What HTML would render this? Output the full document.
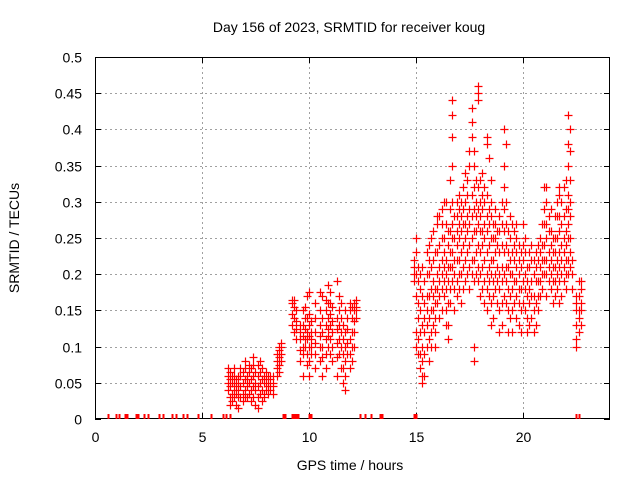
<!DOCTYPE html>
<html><head><meta charset="utf-8"><style>
html,body{margin:0;padding:0;background:#fff}
svg{display:block;font-family:"Liberation Sans",sans-serif}
</style></head><body>
<svg id="chart" width="640" height="480" viewBox="0 0 640 480" xmlns="http://www.w3.org/2000/svg">
<rect width="640" height="480" fill="#fff"/>
<text x="349" y="32" font-size="14" text-anchor="middle">Day 156 of 2023, SRMTID for receiver koug</text>
<text transform="translate(19,238) rotate(-90)" font-size="14" text-anchor="middle">SRMTID / TECUs</text>
<text x="350" y="470" font-size="14" text-anchor="middle">GPS time / hours</text>
<g id="grid"></g>
<g id="ticks"></g>
<rect x="95.5" y="57.5" width="514" height="361" fill="none" stroke="#000" stroke-width="1"/>
<path id="zeros" d="" stroke="#ff0000" stroke-width="2" fill="none"/>
<path id="marks" d="" stroke="#ff0000" stroke-width="1.2" fill="none"/>
</svg>
<script>
const xTicks = [0, 5, 10, 15, 20];
const yTicks = [0, 0.05, 0.1, 0.15, 0.2, 0.25, 0.3, 0.35, 0.4, 0.45, 0.5];
const yTickLabels = ["0","0.05","0.1","0.15","0.2","0.25","0.3","0.35","0.4","0.45","0.5"];
const zeroTimes = [0.6,1.0,1.1,1.4,1.5,1.9,2.0,2.3,2.5,3.0,3.2,3.6,3.8,4.1,4.3,4.8,5.4,6.0,6.1,6.3,8.8,8.9,9.2,9.3,9.4,9.5,10.0,10.1,12.4,12.6,12.9,13.3,13.4,14.9,15.0,22.5,22.6];
const sampleTimes = [6.2,6.3,6.4,6.5,6.6,6.7,6.8,6.9,7.0,7.1,7.2,7.3,7.4,7.5,7.6,7.7,7.8,7.9,8.0,8.1,8.2,8.3,8.5,8.6,8.7,
9.2,9.3,9.4,9.6,9.7,9.8,9.9,10.0,10.1,10.3,10.5,10.6,10.8,10.9,11.0,11.1,11.3,11.4,11.5,11.6,11.7,11.8,11.9,12.0,12.1,12.2,
14.9,15.0,15.1,15.2,15.3,15.4,15.5,15.6,15.7,15.8,15.9,16.0,16.1,16.2,16.3,16.4,16.5,16.6,16.7,16.8,16.9,17.0,17.1,17.2,17.3,17.4,17.5,17.6,17.7,17.8,17.9,18.0,18.1,18.2,18.3,18.4,18.5,18.6,18.7,18.8,18.9,19.0,19.1,19.2,19.3,19.4,19.5,19.6,19.7,19.8,19.9,20.0,20.1,20.2,20.3,20.4,20.5,20.6,20.7,20.8,20.9,21.0,21.1,21.2,21.3,21.4,21.5,21.6,21.7,21.8,21.9,22.0,22.1,22.2,22.3,22.5,22.6,22.7];
const sampleValues = [
[.04,.05,.06,.07],[.03,.045,.055,.065,.02],[.035,.05,.06,.025],[.03,.04,.05,.06,.07],[.02,.035,.045,.055],
[.04,.05,.06,.015,.03],[.03,.045,.06,.07],[.035,.05,.065,.025],[.04,.055,.07,.03,.08],[.03,.045,.06,.05],
[.035,.05,.065,.075],[.025,.04,.055,.07],[.03,.045,.06,.075,.085],[.04,.05,.065,.02],[.03,.045,.06,.075,.015],
[.035,.05,.065,.08],[.025,.04,.055,.07],[.035,.05,.06,.03],[.04,.05,.055,.065],[.035,.045,.055,.06],
[.04,.05,.055,.06],[.035,.045,.05,.06],[.06,.07,.08,.09],[.075,.085,.095,.1,.065],[.08,.09,.1,.105],
[.13,.145,.16,.165],[.12,.14,.155,.165],[.11,.125,.135,.15],[.08,.095,.11,.12,.13],[.06,.09,.1,.115,.13,.15],
[.1,.11,.125,.14,.155],[.075,.09,.11,.12,.14,.17],[.06,.08,.1,.115,.13,.145,.175],[.09,.1,.11,.12,.135],
[.07,.09,.105,.12,.14,.16],[.08,.1,.115,.13,.15,.175],[.06,.085,.1,.12,.14,.17],[.07,.09,.11,.13,.15,.165],
[.1,.115,.125,.14,.16,.185],[.09,.11,.13,.145,.16,.175],[.08,.1,.12,.135,.155],[.06,.085,.105,.125,.14,.19],
[.09,.11,.13,.15,.17],[.07,.1,.12,.14,.16],[.05,.07,.09,.11,.13],[.04,.06,.08,.1,.12,.15],[.09,.105,.125,.14],
[.07,.09,.11,.15,.16],[.08,.1,.12,.14,.155],[.1,.12,.135,.15,.16],[.14,.15,.155,.165],
[.19,.2,.21,.22],[.17,.2,.23,.25,.1,.12],[.09,.11,.14,.16,.19,.21],[.07,.09,.12,.15,.18,.2],
[.05,.06,.08,.1,.13,.17,.21],[.06,.09,.12,.14,.16,.19],[.1,.13,.15,.17,.2,.23],[.08,.11,.14,.17,.2,.22,.24],
[.1,.12,.15,.18,.21,.25],[.13,.15,.17,.19,.22,.26],[.1,.12,.14,.16,.18,.23],[.16,.18,.2,.23,.27,.28],
[.14,.17,.19,.21,.24,.28],[.15,.18,.2,.22,.25,.27,.29],[.17,.19,.21,.23,.25,.3],[.13,.15,.18,.2,.22,.27,.3],
[.11,.13,.16,.19,.21,.24,.26],[.16,.18,.21,.23,.26,.29,.33],[.19,.21,.23,.25,.27,.3,.35,.39,.42,.44],
[.15,.18,.2,.22,.25,.28],[.17,.19,.22,.24,.26,.28,.3],[.18,.2,.22,.25,.27,.29,.31],[.16,.2,.23,.26,.28,.3],
[.18,.21,.24,.27,.29,.32],[.19,.22,.25,.27,.3,.34],[.2,.23,.26,.28,.31,.33],[.18,.21,.24,.27,.29,.35,.37],
[.2,.22,.25,.28,.31,.39,.43,.41],[.08,.1,.19,.22,.26,.29,.32,.35,.37],[.2,.23,.26,.28,.3,.33],
[.19,.21,.24,.27,.29,.32,.44,.46,.45],[.17,.2,.23,.26,.28,.3,.33],[.18,.21,.24,.26,.29,.31,.34],
[.16,.19,.22,.25,.27,.3,.32],[.15,.18,.2,.23,.26,.28,.31,.39,.38],[.17,.19,.21,.24,.27,.29,.36],
[.13,.16,.2,.22,.25,.28,.33,.3],[.14,.17,.19,.22,.25,.27],[.18,.2,.23,.25,.27,.29],[.16,.19,.21,.24,.26],
[.12,.15,.18,.2,.23,.26,.28],[.13,.16,.19,.21,.24,.27,.3],[.17,.2,.23,.26,.29,.32,.35,.4],
[.16,.19,.21,.24,.27,.3,.38],[.12,.15,.18,.21,.23,.26],[.14,.17,.2,.22,.25,.28],[.12,.15,.18,.2,.23,.27],
[.16,.19,.22,.24,.26],[.14,.17,.19,.21,.23,.25,.27],[.13,.16,.18,.2,.22,.24],[.12,.15,.18,.21,.23],
[.16,.19,.22,.24,.27],[.15,.18,.2,.23,.25],[.12,.14,.17,.19,.21],[.13,.16,.18,.21,.23],[.14,.17,.19,.22,.24],
[.12,.15,.17,.2,.22],[.13,.16,.19,.21,.23],[.15,.17,.19,.22,.24],[.17,.19,.21,.23,.25],[.18,.2,.22,.24,.27],
[.2,.22,.24,.27,.29,.32],[.17,.2,.22,.25,.27,.3,.32],[.19,.21,.23,.26,.28],[.18,.2,.22,.24,.26,.29],
[.16,.19,.21,.23,.25],[.17,.19,.21,.23,.25,.28],[.18,.2,.22,.25,.28,.3],[.16,.19,.21,.23,.26,.28,.31,.32],
[.17,.2,.22,.24,.27,.3],[.19,.21,.23,.25,.28,.32],[.18,.2,.22,.24,.26,.29,.33],
[.2,.22,.25,.27,.29,.31,.35,.38,.42],[.21,.23,.25,.28,.3,.33,.37,.4],[.18,.2,.22],
[.1,.11,.13,.15,.16,.17],[.12,.14,.15,.17,.19],[.13,.15,.16,.18,.19]];

const X0=95, X1=610, Y0=419, Y1=57, XMAX=24.07, YMAX=0.5;
const xs = t => X0 + t/XMAX*(X1-X0);
const ys = v => Y0 - v/YMAX*(Y0-Y1);
const NS="http://www.w3.org/2000/svg";
function mk(tag, attrs, parent){const e=document.createElementNS(NS,tag);for(const k in attrs)e.setAttribute(k,attrs[k]);parent.appendChild(e);return e;}
const grid=document.getElementById('grid'), ticks=document.getElementById('ticks');

xTicks.forEach(t=>{
  const x=Math.round(xs(t))+0.5;
  if(t>0){const g=mk('line',{x1:x,x2:x,y1:57,y2:419,stroke:'#a0a0a0','stroke-dasharray':'2,3'},grid);
  
  }
  mk('line',{x1:x,x2:x,y1:419,y2:413,stroke:'#000'},ticks);
  mk('line',{x1:x,x2:x,y1:57,y2:63,stroke:'#000'},ticks);
  const l=mk('text',{x:x,y:442,'font-size':14,'text-anchor':'middle'},ticks);
  l.textContent=String(t);
  
  
});
yTicks.forEach((v,i)=>{
  const y=Math.round(ys(v))+0.5;
  if(v>0&&v<YMAX){const g=mk('line',{x1:95,x2:610,y1:y,y2:y,stroke:'#a0a0a0','stroke-dasharray':'2,3'},grid);
  
  }
  mk('line',{x1:95,x2:101,y1:y,y2:y,stroke:'#000'},ticks);
  mk('line',{x1:610,x2:604,y1:y,y2:y,stroke:'#000'},ticks);
  const l=mk('text',{x:82,y:y+5,'font-size':14,'text-anchor':'end'},ticks);
  l.textContent=yTickLabels[i];
  
  
});
let dz='';
zeroTimes.forEach(t=>{
  const x=Math.round(xs(t))+0.5;
  dz+=`M${x} ${Y0-5}V${Y0}`;
});
document.getElementById('zeros').setAttribute('d',dz);
let d='';
sampleTimes.forEach((t,i)=>sampleValues[i].forEach(v=>{
  const x=Math.round(xs(t))+0.5, y=Math.round(ys(v))+0.5;
  d+=`M${x-4} ${y}H${x+4}M${x} ${y-4}V${y+4}`;
}));
document.getElementById('marks').setAttribute('d',d);
</script>
</body></html>
